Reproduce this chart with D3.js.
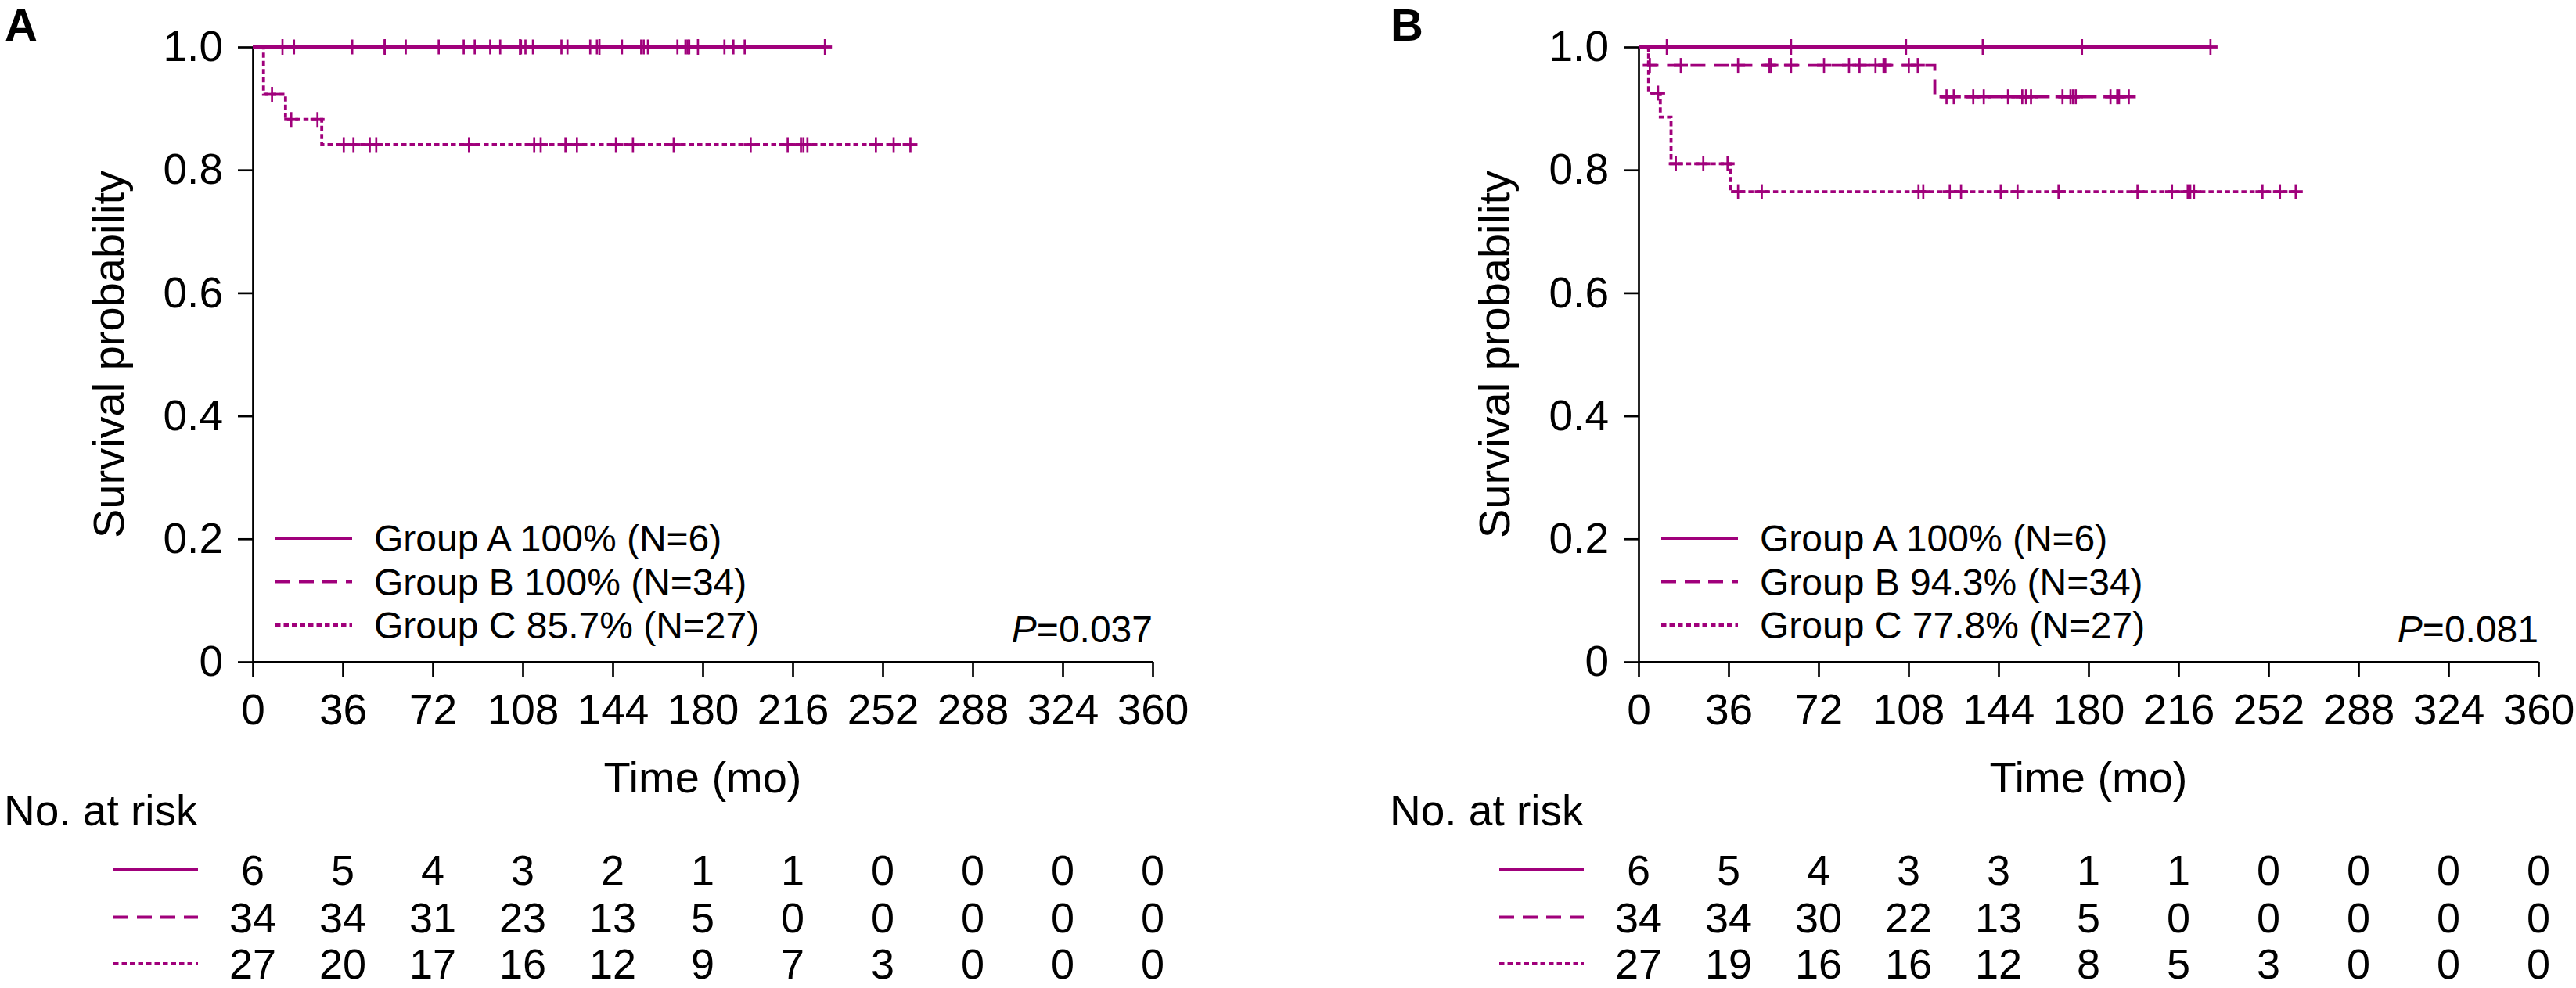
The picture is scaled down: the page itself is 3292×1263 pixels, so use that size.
<!DOCTYPE html>
<html>
<head>
<meta charset="utf-8">
<script src="https://cdn.jsdelivr.net/npm/d3@7"></script>
<style>
  html, body { margin: 0; padding: 0; background: #fff; }
  svg { display: block; }
  text { font-family: "Liberation Sans", Arial, Helvetica, sans-serif; fill: #000; }
</style>
</head>
<body>
<svg id="chart" width="3292" height="1263"></svg>
<script>
// ---------------- DATA ----------------
const xTicks = [0, 36, 72, 108, 144, 180, 216, 252, 288, 324, 360];
const yTicks = [0, 0.2, 0.4, 0.6, 0.8, 1.0];
const yTickLabels = ["0", "0.2", "0.4", "0.6", "0.8", "1.0"];
const groupNames = ["Group A", "Group B", "Group C"];
const panelLetters = ["A", "B"];

// Panel A: steps = [time of drop, survival after drop]; end = last follow-up; censors = times of censor marks
const panelA_groupA_steps = [];
const panelA_groupA_end = 228.9;
const panelA_groupA_censors = [11.9, 52.8, 106.9, 138.7, 178.1, 228.9];
const panelA_groupB_steps = [];
const panelA_groupB_end = 196.8;
const panelA_groupB_censors = [16.5, 39.8, 52.8, 61.2, 74.4, 84.4, 88.8, 95.0, 99.0, 107.3, 109.1, 112.1,
  123.5, 125.9, 135.0, 137.7, 147.7, 155.4, 156.4, 158.1, 169.9, 173.1, 173.9, 174.6, 188.7, 192.3, 196.8];
const panelA_groupC_steps = [[4.3, 0.923], [13.1, 0.882], [27.6, 0.841]];
const panelA_groupC_end = 263.1;
const panelA_groupC_censors = [7.7, 15.4, 25.9, 36.4, 40.3, 46.8, 49.4, 86.5, 112.6, 115.2, 125.1, 129.7,
  145.3, 152.1, 168.4, 199.2, 214.0, 219.3, 220.3, 221.9, 249.3, 256.4, 263.1];

// Panel B
const panelB_groupA_steps = [];
const panelB_groupA_end = 228.8;
const panelB_groupA_censors = [11.3, 61.0, 107.0, 137.7, 177.4, 228.8];
const panelB_groupB_steps = [[4.0, 0.970], [118.5, 0.919]];
const panelB_groupB_end = 196.1;
const panelB_groupB_censors = [4.5, 16.9, 39.8, 52.4, 53.1, 61.0, 74.2, 84.2, 88.4, 94.8, 98.0, 98.7, 108.1, 111.7,
  123.2, 126.1, 133.9, 138.1, 147.8, 153.5, 155.0, 157.0, 169.6, 172.8, 173.8, 174.9, 188.8, 191.5, 192.2, 196.1];
const panelB_groupC_steps = [[4.0, 0.925], [8.7, 0.886], [13.0, 0.810], [36.7, 0.7645]];
const panelB_groupC_end = 262.9;
const panelB_groupC_censors = [7.8, 14.9, 25.9, 35.6, 39.8, 49.3, 112.0, 113.9, 124.5, 129.0, 144.9, 151.6,
  168.0, 199.6, 213.4, 219.7, 220.7, 222.2, 249.6, 256.6, 262.9];

const panelA_legend = ["Group A 100% (N=6)", "Group B 100% (N=34)", "Group C 85.7% (N=27)"];
const panelB_legend = ["Group A 100% (N=6)", "Group B 94.3% (N=34)", "Group C 77.8% (N=27)"];
const panelA_pValue = "0.037";
const panelB_pValue = "0.081";

const panelA_risk_groupA = [6, 5, 4, 3, 2, 1, 1, 0, 0, 0, 0];
const panelA_risk_groupB = [34, 34, 31, 23, 13, 5, 0, 0, 0, 0, 0];
const panelA_risk_groupC = [27, 20, 17, 16, 12, 9, 7, 3, 0, 0, 0];
const panelB_risk_groupA = [6, 5, 4, 3, 3, 1, 1, 0, 0, 0, 0];
const panelB_risk_groupB = [34, 34, 30, 22, 13, 5, 0, 0, 0, 0, 0];
const panelB_risk_groupC = [27, 19, 16, 16, 12, 8, 5, 3, 0, 0, 0];

// ---------------- LAYOUT / STYLE ----------------
const COLOR = "#A0007B";
const dashes = [null, "19,11", "6.5,4"];
const LINE_W = 3.8;
const FONT_TICK = 55, FONT_TITLE = 56, FONT_LEGEND = 48, FONT_RISK = 54;

const panels = [
  { offset: 0, letter: panelLetters[0], legend: panelA_legend, p: panelA_pValue,
    groups: [
      { steps: panelA_groupA_steps, end: panelA_groupA_end, censors: panelA_groupA_censors },
      { steps: panelA_groupB_steps, end: panelA_groupB_end, censors: panelA_groupB_censors },
      { steps: panelA_groupC_steps, end: panelA_groupC_end, censors: panelA_groupC_censors }],
    risk: [panelA_risk_groupA, panelA_risk_groupB, panelA_risk_groupC] },
  { offset: 1771, letter: panelLetters[1], legend: panelB_legend, p: panelB_pValue,
    groups: [
      { steps: panelB_groupA_steps, end: panelB_groupA_end, censors: panelB_groupA_censors },
      { steps: panelB_groupB_steps, end: panelB_groupB_end, censors: panelB_groupB_censors },
      { steps: panelB_groupC_steps, end: panelB_groupC_end, censors: panelB_groupC_censors }],
    risk: [panelB_risk_groupA, panelB_risk_groupB, panelB_risk_groupC] }
];

const plotL = 323, plotT = 60, plotW = 1150, plotH = 786;
const svg = d3.select("#chart");

function survAt(steps, t) {
  let s = 1;
  for (const [tt, ss] of steps) { if (tt <= t) s = ss; }
  return s;
}

panels.forEach(panel => {
  const g = svg.append("g").attr("transform", `translate(${panel.offset},0)`);
  const x = d3.scaleLinear().domain([0, 360]).range([plotL, plotL + plotW]);
  const y = d3.scaleLinear().domain([0, 1]).range([plotT + plotH, plotT]);

  // panel letter
  g.append("text").attr("x", 6).attr("y", 52)
    .attr("font-size", 58).attr("font-weight", "bold").text(panel.letter);

  // y axis
  const yAxis = g.append("g").attr("transform", `translate(${plotL},0)`)
    .call(d3.axisLeft(y).tickValues(yTicks).tickFormat((d, i) => yTickLabels[i])
      .tickSize(19).tickSizeOuter(0).tickPadding(19));
  yAxis.select(".domain").attr("stroke", "#000").attr("stroke-width", 2.7);
  yAxis.selectAll(".tick line").attr("stroke", "#000").attr("stroke-width", 2.7);
  yAxis.selectAll(".tick text").attr("font-size", FONT_TICK)
    .attr("font-family", '"Liberation Sans", Arial, sans-serif');

  // x axis
  const xAxis = g.append("g").attr("transform", `translate(0,${plotT + plotH})`)
    .call(d3.axisBottom(x).tickValues(xTicks).tickSize(20).tickSizeOuter(0).tickPadding(21));
  xAxis.select(".domain").attr("stroke", "#000").attr("stroke-width", 3.2);
  xAxis.selectAll(".tick line").attr("stroke", "#000").attr("stroke-width", 2.7);
  xAxis.selectAll(".tick text").attr("font-size", FONT_TICK)
    .attr("font-family", '"Liberation Sans", Arial, sans-serif');

  // axis titles
  g.append("text").attr("text-anchor", "middle").attr("font-size", FONT_TITLE)
    .attr("transform", `translate(158,${plotT + plotH / 2}) rotate(-90)`)
    .text("Survival probability");
  g.append("text").attr("text-anchor", "middle").attr("font-size", FONT_TITLE)
    .attr("x", plotL + plotW / 2).attr("y", 1013).text("Time (mo)");

  // curves (draw C, B, then A on top)
  const line = d3.line().x(d => x(d[0])).y(d => y(d[1])).curve(d3.curveStepAfter);
  [2, 1, 0].forEach(gi => {
    const grp = panel.groups[gi];
    const pts = [[0, 1], ...grp.steps, [grp.end, survAt(grp.steps, grp.end)]];
    g.append("path").datum(pts).attr("d", line)
      .attr("fill", "none").attr("stroke", COLOR).attr("stroke-width", LINE_W)
      .attr("stroke-dasharray", dashes[gi]);
    const marks = g.append("g");
    grp.censors.forEach(t => {
      const cx = x(t), cy = y(survAt(grp.steps, t));
      const hv = gi === 0 ? 10 : 9.5;
      marks.append("line").attr("x1", cx).attr("x2", cx).attr("y1", cy - hv).attr("y2", cy + hv)
        .attr("stroke", COLOR).attr("stroke-width", 2.7);
      marks.append("line").attr("x1", cx - 9).attr("x2", cx + 9).attr("y1", cy).attr("y2", cy)
        .attr("stroke", COLOR).attr("stroke-width", LINE_W);
    });
  });

  // legend in plot
  const legY = [688, 743.5, 799];
  panel.legend.forEach((lab, i) => {
    g.append("line").attr("x1", 352).attr("x2", 450).attr("y1", legY[i]).attr("y2", legY[i])
      .attr("stroke", COLOR).attr("stroke-width", LINE_W).attr("stroke-dasharray", dashes[i]);
    g.append("text").attr("x", 478).attr("y", legY[i] + 17).attr("font-size", FONT_LEGEND).text(lab);
  });

  // P value
  const pt = g.append("text").attr("x", plotL + plotW).attr("y", 821).attr("text-anchor", "end")
    .attr("font-size", FONT_LEGEND);
  pt.append("tspan").attr("font-style", "italic").text("P");
  pt.append("tspan").text("=" + panel.p);

  // risk table
  g.append("text").attr("x", 5).attr("y", 1055).attr("font-size", FONT_TICK).text("No. at risk");
  const rowY = [1131, 1191.5, 1251];
  panel.risk.forEach((row, i) => {
    g.append("line").attr("x1", 145).attr("x2", 253).attr("y1", rowY[i] - 19).attr("y2", rowY[i] - 19)
      .attr("stroke", COLOR).attr("stroke-width", LINE_W).attr("stroke-dasharray", dashes[i]);
    row.forEach((v, j) => {
      g.append("text").attr("x", x(xTicks[j])).attr("y", rowY[i]).attr("text-anchor", "middle")
        .attr("font-size", FONT_RISK).text(v);
    });
  });
});
</script>
</body>
</html>
